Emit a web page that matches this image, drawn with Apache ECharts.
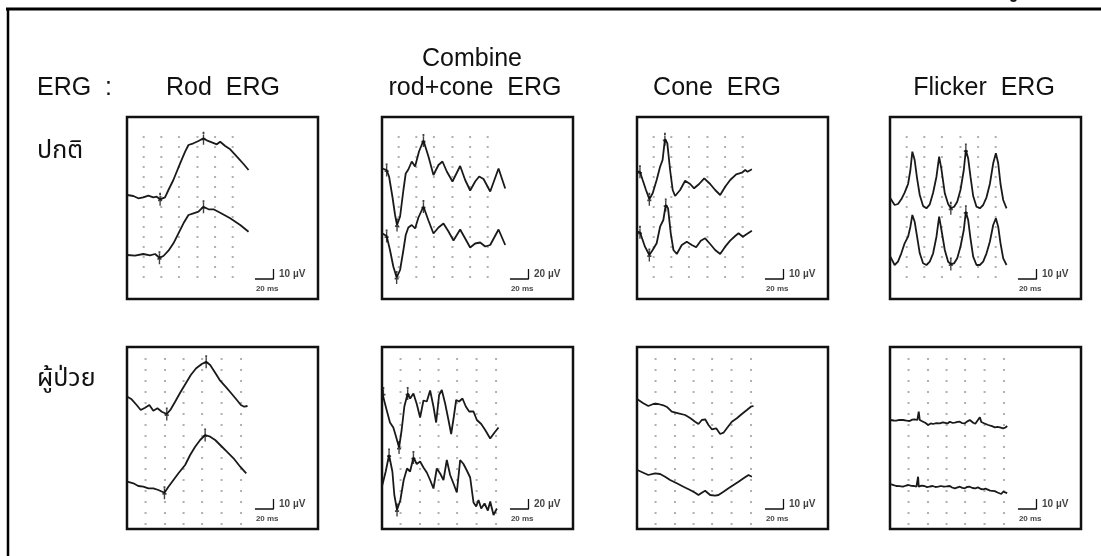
<!DOCTYPE html>
<html><head><meta charset="utf-8">
<script src="https://cdn.jsdelivr.net/npm/echarts@6/dist/echarts.min.js"></script>
<style>html,body{margin:0;padding:0;background:#fff}#c{width:1101px;height:556px}</style>
</head><body><div id="c"></div>
<script>
// ---- categories / labels ----
const columnTitles = ['Rod  ERG', 'rod+cone  ERG', 'Cone  ERG', 'Flicker  ERG'];
const columnSuper = ['', 'Combine', '', ''];
const rowLabels = ['ปกติ', 'ผู้ป่วย'];
const scaleUV = [10, 20, 10, 10];        // µV of the vertical scale bar in each column
const scaleMs = 20;

// ---- traces: [time ms, amplitude µV] ----
const rodNormalA = [[0.3,104],[6.8,103],[12.2,100.7],[17.6,101.7],[23,103.3],[28.4,101.7],[32.1,102.3],[35.7,99.7],[41,101.7],[44.7,109],[50,119],[57.3,135.7],[62.7,147.3],[66.3,154],[71.7,155.7],[77.1,158],[82.5,160.7],[86.7,158.3],[91.5,156.7],[96.9,154.7],[100.5,157.3],[105.9,153],[111.3,149.7],[118.5,142.3],[125.7,135],[131.1,129]];
const rodNormalB = [[0.3,44],[8.5,43.3],[17.6,45],[24.9,43.7],[30.3,45],[35,41.3],[39.3,43],[44.7,48.3],[50.1,55.7],[55.5,65.7],[60.9,75.7],[66.3,84],[71.7,85.7],[77.1,87.3],[82.5,92.3],[87.9,89.7],[93.3,89.7],[100.5,86.3],[111.3,80.7],[122.1,74],[131.1,67.3]];
const combNormalA = [[0.4,261],[5,258],[7.6,245],[11.2,205],[14.1,168],[16.2,148],[19.5,165],[23.1,218],[25.6,251],[28.4,259],[32.1,275],[35.7,265],[39.9,295],[44.7,317],[50.1,285],[55.5,248],[60.9,268],[65.2,275],[69.9,255],[76,235],[84.3,266],[89.7,238],[95.1,217],[100.5,235],[104.8,245],[109.5,240],[116.7,215],[125.7,261],[132.9,221]];
const combNormalB = [[0.4,131],[5,126],[8.6,98],[12.2,65],[15.8,43],[19.5,58],[23.1,98],[25.6,128],[28.4,143],[32.1,148],[35.7,141],[39.3,163],[44.7,185],[50.1,157],[55.5,131],[60.9,143],[66.3,151],[71.7,135],[77.1,117],[84.3,139],[89.7,121],[95.1,103],[100.5,111],[105.9,113],[111.3,105],[116.7,108],[125.7,139],[132.9,108]];
const coneNormalA = [[0.4,127.3],[3.2,127.3],[6.1,119],[9.7,109],[13.3,99.7],[16.9,105.7],[21.2,119],[24.9,132.3],[27.6,139],[30.1,159.7],[32.7,155.7],[35.7,129],[38.5,109],[41.1,103],[46.5,109],[51.9,118.3],[57.3,115],[61.6,110.7],[67,115],[72.5,120.7],[78.9,115],[84.3,109],[89.7,104],[95.1,112.3],[100.5,119],[107,124.7],[113.1,126.3],[116.7,129],[119.2,127.3],[123.9,129.7]];
const coneNormalB = [[0.4,67.3],[3.2,66.7],[8.6,52.3],[13.3,44],[16.9,49],[21.2,55.7],[24.9,72.3],[28.4,79],[31,94],[33.5,90.7],[36.4,65.7],[39.3,49],[42.9,45],[48.3,54],[53.7,57.3],[59.1,54],[63.8,51.7],[68.8,58.3],[73.5,60.7],[78.9,55],[84.3,49],[89.7,45],[95.1,52.3],[100.5,58.3],[105.9,63],[109.5,65.7],[114.2,62.3],[118.5,65],[123.9,68.3]];
const flickNormalA = [[0.4,100.7],[5,94],[8.6,95],[12.2,99.7],[15.8,106.3],[19.5,115],[22,129],[24.1,147.3],[26.6,139],[29.2,120.7],[32.1,104],[35.7,93],[39.3,90.7],[42.9,94.7],[46.5,106.3],[50.1,122.3],[53,142.3],[55.5,129.7],[59.1,105.7],[62.7,95],[65.6,90.7],[69.2,92.3],[72.5,97.3],[76,109],[79.6,129],[81.8,149],[84.3,140.7],[86.8,122.3],[89.7,103],[93.3,92.3],[96.9,90.7],[100.5,94],[104.1,101.7],[107.7,115],[111.3,135.7],[114.2,145.7],[116.7,135.7],[119.2,115],[122.1,99],[125.7,90.7]];
const flickNormalB = [[0.4,42.3],[5,34],[8.6,37.3],[12.2,45.7],[15.8,55.7],[19.5,62.3],[22,72.3],[24.1,84],[26.6,77.3],[29.2,62.3],[32.1,45.7],[35.7,35.7],[39.3,34],[42.9,37.3],[46.5,45.7],[50.1,62.3],[53,82.3],[55.5,69],[59.1,49],[62.7,37.3],[65.6,35],[69.2,35.7],[72.5,40.7],[76,52.3],[79.6,69],[81.8,87.3],[84.3,79],[86.8,60.7],[89.7,42.3],[93.3,34],[96.9,34],[100.5,37.3],[104.1,45.7],[107.7,57.3],[111.3,74],[114.2,80.7],[116.7,72.3],[119.2,55.7],[122.1,40.7],[125.7,34]];

const rodPatientA = [[0.4,132.3],[5,129.7],[10.4,124],[14.8,119],[19.5,121.3],[24.1,124],[28.4,118.3],[32.8,120.7],[37.5,117.3],[42.9,115],[47.2,119.7],[51.9,127.3],[57.3,136.3],[63.8,146.3],[68.8,154],[74.6,160.7],[80.7,165],[85.4,167.3],[89.7,164],[95.1,156.3],[100.5,148.3],[107,141.7],[113.1,135],[118.5,129],[122.8,124],[126.4,122.3],[130,123]];
const rodPatientB = [[0.4,47.3],[6.8,45.7],[12.2,43],[17.6,42.3],[23,40.7],[28.4,40.7],[33.8,39],[40.4,36.3],[44.7,42.3],[50.1,49],[55.5,55.7],[62.7,64],[68.1,74],[73.5,82.3],[78.9,89],[84.3,94],[89.7,92.3],[95.1,89],[100.5,84],[107.7,77.3],[114.9,70.7],[122.1,62.3],[128.6,55.7]];
const combPatientA = [[0.4,271],[5,238],[8.6,213],[12.2,203],[15.1,185],[18.4,163],[21.2,198],[24.1,245],[27.7,271],[30.3,261],[33.9,271],[37.5,250],[41.1,223],[44.7,257],[48.3,255],[51.9,277],[55.5,245],[58.4,213],[61.6,268],[64.5,278],[68.1,251],[71.7,218],[74.6,190],[77.5,225],[80,258],[83.2,255],[86.8,261],[90.4,245],[94,235],[98.7,235],[102.3,218],[107,210],[111.3,198],[116.7,181],[121.4,193],[125.7,203]];
const combPatientB = [[0.4,88],[4,115],[7.6,148],[11.2,115],[13.3,68],[16.2,38],[19.8,58],[23.4,98],[27,121],[30.3,115],[33.9,143],[37.5,130],[41.1,135],[44.7,123],[48.3,113],[51.9,98],[55.5,81],[59.1,121],[62.7,111],[66.3,98],[69.9,138],[73.5,108],[77.1,91],[80.7,73],[84.3,138],[87.9,130],[91.5,117],[95.1,103],[98.7,53],[101.6,45],[104.1,58],[107,41],[110.6,51],[114.2,37],[116.7,55],[120.3,28],[123.9,41]];
const conePatientA = [[0.4,129.7],[6.8,125.7],[12.2,123],[17.6,125],[23,125],[28.4,123.7],[32.8,121.7],[37.5,117.3],[44.7,115.7],[51.9,114],[57.3,111],[62.7,107.3],[66.3,105],[69.9,109],[73.5,109.7],[77.1,104],[80.7,99.7],[85.4,100.7],[89.7,95],[93.3,96.3],[96.9,100.7],[102.3,107.3],[107.7,110.7],[113.1,115],[118.5,119],[122.8,122.3],[125.7,123]];
const conePatientB = [[0.4,59],[6.8,56.3],[12.2,54],[19.5,55.7],[24.9,55],[30.3,52.3],[35.7,49],[42.9,45.7],[50.1,42.3],[57.3,39],[62.7,36.3],[66.3,34],[69.9,36.3],[73.5,38.3],[78.9,34],[84.3,33.3],[87.9,34],[93.3,37.3],[98.7,40.7],[104.1,44],[109.5,47.3],[114.9,50.7],[120.3,54],[123.9,52.3]];
const flickPatientA = [[0.4,109],[4,108.5],[6.8,108.3],[10,109.2],[14,109],[18,108.4],[21.2,108],[24,109.4],[26.6,109.7],[29.5,109],[31,117.3],[32.1,109],[35.7,107.3],[38,106.2],[41.1,104],[44,105.6],[46.5,105],[50,105.9],[53.7,105.7],[57,106.6],[59.1,106.3],[62,105.6],[64.5,107.3],[67,106.2],[69.9,106.3],[73,107.1],[75.3,107.3],[78,105.8],[80.7,105.7],[83,107.4],[86.1,109],[88,107],[89.7,106.3],[92,105.3],[94,105],[96.9,111.7],[98.5,107],[100.5,107.3],[102,105.5],[104.1,105.7],[106,104],[107.7,103],[110,102.8],[113.1,101.7],[116,102.2],[118.5,101.7],[122.1,100.7],[124.5,101.5],[126.4,103]];
const flickPatientB = [[0.4,45],[3,44.2],[6.8,43],[10,42.8],[14,42.3],[17.5,43.5],[20,44],[23,43.2],[26,43],[28.5,42.3],[30.3,52.3],[31,42.3],[34,43.3],[37,43],[40,41.8],[43,42.5],[46,43],[49,42],[52,42.3],[55,43],[58,42.3],[61,42.6],[64.5,43],[67,41.5],[69.9,40.7],[72,42],[75.3,42.3],[78,41.1],[80.7,40.7],[83,42],[86,42.3],[89,41],[92,40.7],[95,41.6],[98,40],[100.5,39.7],[103,40.3],[105,39],[108,38.4],[110,37.3],[113,37.9],[116,36.5],[118,35.7],[120,35],[122,37.3],[124,36],[126.4,35.8]];

// peak / trough cursor markers [time ms, µV]
const rodNormalMarks = [[35.7,99.7],[82.5,160.7],[35,41.3],[82.5,92.3]];
const combNormalMarks = [[5,258],[16.2,148],[44.7,317],[5,126],[15.8,43],[44.7,185]];
const coneNormalMarks = [[3.2,127.3],[13.3,99.7],[30.1,159.7],[3.2,66.7],[13.3,44],[31,94]];
const flickNormalMarks = [[65.6,90.7],[81.8,149],[65.6,35],[81.8,87.3]];
const rodPatientMarks = [[42.9,115],[85.4,167.3],[40.4,36.3],[84.3,94]];
const combPatientMarks = [[1.5,271],[18.4,163],[27.7,271],[7.6,148],[16.2,38],[33.9,143]];
const conePatientMarks = [];
const flickPatientMarks = [];

// dot grid positions (ms / µV in 10 µV-scale units)
const dotColsRow1 = [18, 37, 56, 76, 95, 114];
const dotRowsRow1 = [22, 32, 42, 52, 62, 72, 82, 92, 102, 112, 122, 132, 142, 152, 162];
const dotColsRow2 = [20, 41, 61, 81, 102, 123];
const dotRowsRow2 = [5, 16, 27, 38, 49, 60, 71, 82, 93, 104, 115, 126, 137, 148, 159, 170];

const panels = [
  {row:0,col:0,a:rodNormalA,b:rodNormalB,m:rodNormalMarks},
  {row:0,col:1,a:combNormalA,b:combNormalB,m:combNormalMarks},
  {row:0,col:2,a:coneNormalA,b:coneNormalB,m:coneNormalMarks},
  {row:0,col:3,a:flickNormalA,b:flickNormalB,m:flickNormalMarks},
  {row:1,col:0,a:rodPatientA,b:rodPatientB,m:rodPatientMarks},
  {row:1,col:1,a:combPatientA,b:combPatientB,m:combPatientMarks},
  {row:1,col:2,a:conePatientA,b:conePatientB,m:conePatientMarks},
  {row:1,col:3,a:flickPatientA,b:flickPatientB,m:flickPatientMarks}
];

// ---- layout ----
const panelLeft = [127, 382, 637, 890];
const panelTop = [117, 347];
const PW = 191, PH = 182;
const XMAX = 206;
const FONT = "'Liberation Sans', Arial, Helvetica, sans-serif";
const THAI = "'Noto Sans Thai', 'Noto Sans Thai Looped', 'Loma', 'Garuda', 'Noto Sans', 'DejaVu Sans', sans-serif";

const grid = [], xAxis = [], yAxis = [], series = [];
panels.forEach((p, i) => {
  const k = scaleUV[p.col] / 10;
  grid.push({left: panelLeft[p.col], top: panelTop[p.row], width: PW, height: PH,
    show: true, borderColor: '#111', borderWidth: 2.5, backgroundColor: '#fff', containLabel: false});
  xAxis.push({gridIndex: i, type: 'value', min: 0, max: XMAX, show: false});
  yAxis.push({gridIndex: i, type: 'value', min: 0, max: PH * k, show: false});
  const cols = p.row === 0 ? dotColsRow1 : dotColsRow2;
  const rows = p.row === 0 ? dotRowsRow1 : dotRowsRow2;
  const dots = [];
  cols.forEach(c => rows.forEach(r => dots.push([c, r * k])));
  series.push({type: 'scatter', xAxisIndex: i, yAxisIndex: i, data: dots, symbol: 'rect',
    symbolSize: 2, itemStyle: {color: '#9c9c9c'}, silent: true, z: 1});
  const lineStyle = {color: '#1a1a1a', width: 1.8};
  series.push({type: 'line', xAxisIndex: i, yAxisIndex: i, data: p.a,
    showSymbol: false, lineStyle, z: 3, silent: true});
  series.push({type: 'line', xAxisIndex: i, yAxisIndex: i, data: p.b,
    showSymbol: false, lineStyle, z: 3, silent: true});
  if (p.m.length) series.push({type: 'scatter', xAxisIndex: i, yAxisIndex: i, data: p.m,
    symbol: 'path://M3.5,0h3v14h-3z M0.5,5.5h9v2.5h-9z M3,-3.5h4v3h-4z', symbolKeepAspect: true,
    symbolSize: [8, 13], itemStyle: {color: '#111'}, z: 4, silent: true});
  // scale bar: 20 ms horizontal, 10 (or 20) µV vertical
  const bx0 = 138, by0 = 20 * k;
  series.push({type: 'line', xAxisIndex: i, yAxisIndex: i,
    data: [[bx0, by0], [bx0 + scaleMs, by0], [bx0 + scaleMs, by0 + scaleUV[p.col]]],
    showSymbol: false, lineStyle: {color: '#111', width: 1.3}, z: 3, silent: true});
  series.push({type: 'scatter', xAxisIndex: i, yAxisIndex: i, symbolSize: 0, silent: true, z: 5,
    data: [
      {value: [bx0 + scaleMs + 6, 25 * k], label: {show: true, position: 'right', distance: 0,
        formatter: scaleUV[p.col] + ' µV', fontSize: 10, fontWeight: 'bold', color: '#111', fontFamily: FONT}},
      {value: [bx0 + 1, 10 * k], label: {show: true, position: 'right', distance: 0,
        formatter: scaleMs + ' ms', fontSize: 8, fontWeight: 'bold', color: '#111', fontFamily: FONT}}
    ]});
});

const colCenters = [223, 475, 717, 984];
const graphic = [
  {type: 'line', shape: {x1: 6, y1: 9, x2: 1101, y2: 9}, style: {stroke: '#000', lineWidth: 3}},
  {type: 'line', shape: {x1: 8, y1: 8, x2: 8, y2: 556}, style: {stroke: '#000', lineWidth: 2.5}},
  {type: 'text', left: 1009, top: -9, style: {text: 'ข', fontSize: 15, fontWeight: 'bold', fill: '#111', fontFamily: THAI}},
  {type: 'text', left: 37, top: 76, style: {text: 'ERG  :', fontSize: 25, fill: '#111', fontFamily: FONT, whiteSpace: 'pre'}}
];
columnTitles.forEach((t, c) => {
  graphic.push({type: 'text', x: colCenters[c], y: 76, style: {text: t, fontSize: 25, fill: '#111',
    fontFamily: FONT, textAlign: 'center', whiteSpace: 'pre'}});
  if (columnSuper[c]) graphic.push({type: 'text', x: colCenters[c] - 3, y: 47, style: {text: columnSuper[c],
    fontSize: 25, fill: '#111', fontFamily: FONT, textAlign: 'center'}});
});
graphic.push({type: 'text', left: 37, top: 140, style: {text: rowLabels[0], fontSize: 25, fill: '#111', fontFamily: THAI}});
graphic.push({type: 'text', left: 37, top: 368, style: {text: rowLabels[1], fontSize: 25, fill: '#111', fontFamily: THAI}});

const chart = echarts.init(document.getElementById('c'), null, {renderer: 'canvas'});
chart.setOption({backgroundColor: '#fff', animation: false, grid, xAxis, yAxis, series, graphic});
</script></body></html>
